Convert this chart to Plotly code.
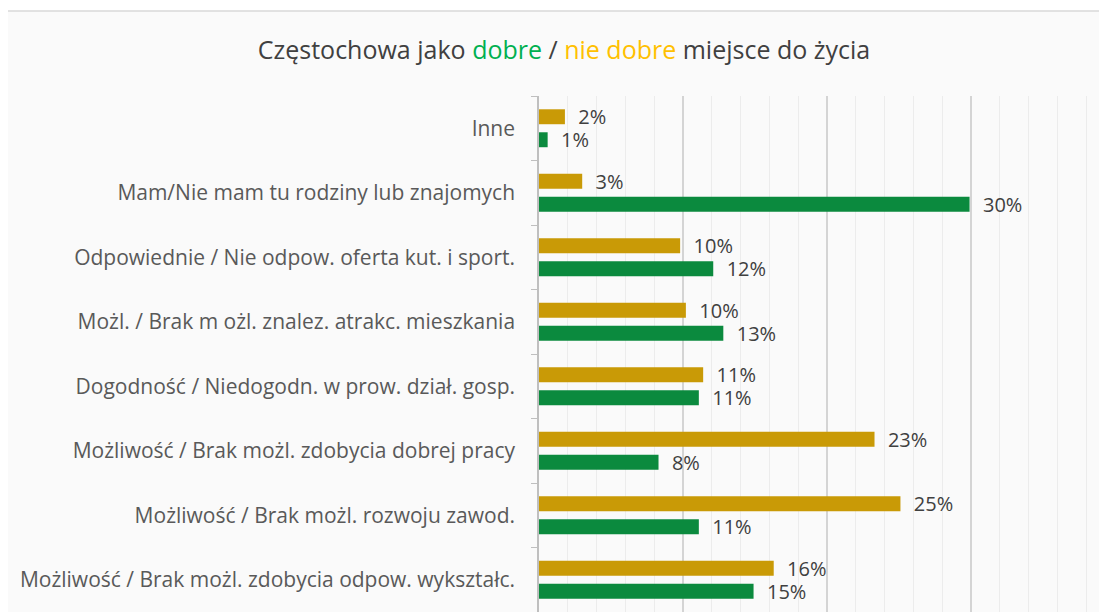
import plotly.graph_objects as go

# categories top -> bottom
categories = [
    "Inne",
    "Mam/Nie mam tu rodziny lub znajomych",
    "Odpowiednie / Nie odpow. oferta kut. i sport.",
    "Możl. / Brak m ożl. znalez. atrakc. mieszkania",
    "Dogodność / Niedogodn. w prow. dział. gosp.",
    "Możliwość / Brak możl. zdobycia dobrej pracy",
    "Możliwość / Brak możl. rozwoju zawod.",
    "Możliwość / Brak możl. zdobycia odpow. wykształc.",
]
nie_dobre = [1.8, 3.0, 9.8, 10.2, 11.4, 23.3, 25.1, 16.3]
dobre = [0.6, 29.9, 12.1, 12.8, 11.1, 8.3, 11.1, 14.9]

GOLD = "#C99A06"
GREEN = "#0B8A3E"
FONT = "Open Sans"

fig = go.Figure()
for name, vals, col in [("nie dobre", nie_dobre, GOLD), ("dobre", dobre, GREEN)]:
    fig.add_trace(go.Bar(
        y=categories, x=vals, name=name, orientation="h",
        marker=dict(color=col, line=dict(width=0)),
        text=[f"{round(v)}%" for v in vals],
        texttemplate="  %{text}", textposition="outside", cliponaxis=False,
        constraintext="none",
        textfont=dict(family=FONT, size=20, color="#404040"),
    ))

title = ("Częstochowa jako <span style='color:#00B050'>dobre</span> / "
         "<span style='color:#FFC000'>nie dobre</span> miejsce do życia")

# page body has an 8px margin, so the figure is laid out 8px up/left
fig.update_layout(
    width=1099, height=604,
    margin=dict(l=531, r=0, t=88, b=0, autoexpand=False),
    paper_bgcolor="white", plot_bgcolor="rgba(0,0,0,0)",
    barmode="group", bargap=0.287, bargroupgap=0.35,
    showlegend=False,
    title=dict(text=title, x=556 / 1099, xref="container", xanchor="center",
               y=1 - 42 / 604, yanchor="middle",
               font=dict(family=FONT, size=25, color="#404040")),
    font=dict(family=FONT),
    shapes=[dict(type="rect", xref="paper", yref="paper",
                 x0=-0.942, x1=1.1, y0=-0.1, y1=1.1647,
                 fillcolor="#fafafa", line=dict(color="#d9d9d9", width=1.5),
                 layer="below")],
)
fig.update_xaxes(range=[0, 568 / 14.4], dtick=10, showticklabels=False,
                 showgrid=True, gridcolor="#d4d4d4", gridwidth=1.5,
                 zeroline=False, automargin=False,
                 minor=dict(dtick=2, showgrid=True, gridcolor="#ececec", gridwidth=1))
fig.update_yaxes(autorange="reversed", showline=True, linecolor="#bfbfbf", linewidth=1.5,
                 ticks="outside", tickson="boundaries", ticklen=6, tickcolor="#bfbfbf",
                 ticklabelstandoff=18, showgrid=False, automargin=False,
                 tickfont=dict(family=FONT, size=21, color="#595959"))

fig.write_html("out.html")
